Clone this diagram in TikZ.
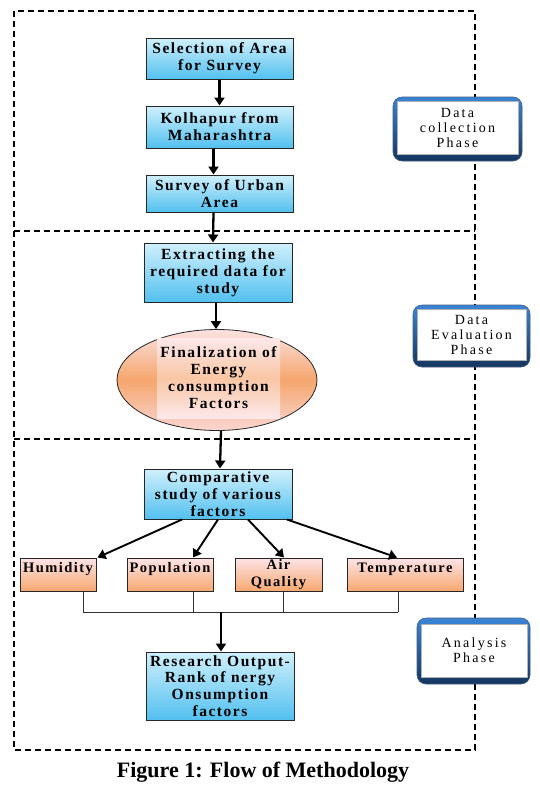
\documentclass[tikz,border=0pt]{standalone}
\usepackage{fontspec}
\setmainfont{Liberation Serif}
\newfontfamily\boxfont{Liberation Serif}[LetterSpace=10.0, BoldFont={Liberation Serif Bold}]
\newfontfamily\phasefont{Liberation Serif}[LetterSpace=16.0]
\usetikzlibrary{arrows.meta,shapes.geometric,calc}
\definecolor{bluetop}{HTML}{D0F0FC}
\definecolor{bluebot}{HTML}{52C0EF}
\definecolor{orgtop}{HTML}{FDE4E7}
\definecolor{orgbot}{HTML}{F6A870}
\definecolor{elltop}{HTML}{FCE2E2}
\definecolor{ellmid}{HTML}{F5A66D}
\definecolor{ellbot}{HTML}{FBD6D2}
\definecolor{bandtop}{HTML}{FDE8EA}
\definecolor{bandmid}{HTML}{F9C6A4}
\definecolor{frametop}{HTML}{3A84D6}
\definecolor{framebot}{HTML}{15355F}
\begin{document}
\begin{tikzpicture}[x=1pt,y=-1pt,
  bluebox/.style={draw=black!85, line width=1pt, top color=bluetop, bottom color=bluebot,
    font=\boxfont\bfseries\fontsize{15.5}{16.8}\selectfont, align=center, inner sep=0pt},
  orangebox/.style={draw=black!85, line width=1pt, top color=orgtop, bottom color=orgbot,
    font=\boxfont\bfseries\fontsize{14.5}{17}\selectfont, align=center, inner sep=0pt},
  toptext/.style={text height=10pt, text depth=15pt},
  ellshape/.style={ellipse, draw=black!85, line width=0.8pt, top color=elltop,
    bottom color=ellbot, middle color=ellmid, inner sep=0pt},
  band/.style={top color=bandtop, bottom color=bandtop, middle color=bandmid, inner sep=0pt,
    font=\boxfont\bfseries\fontsize{15.5}{17}\selectfont, align=center},
  phaseframe/.style={rounded corners=9pt, top color=frametop, bottom color=framebot, draw=framebot!80, line width=0.6pt, inner sep=0pt},
  phasein/.style={fill=white, draw=gray!60, line width=0.6pt, inner sep=0pt, align=center,
    font=\phasefont\fontsize{14}{15}\selectfont},
  frameline/.style={line width=1.2pt, dash pattern=on 6pt off 4pt},
  arr/.style={line width=2.3pt, -{Triangle[length=8pt,width=10pt]}},
  farr/.style={line width=1.9pt, -{Triangle[length=8pt,width=10pt]}},
  busline/.style={line width=0.9pt, draw=black!80}
]
\useasboundingbox (0,0) rectangle (540,796);

% dashed phase frames
\draw[frameline] (14,11) rectangle (475,750);
\draw[frameline] (14,231) -- (475,231);
\draw[frameline] (14,439) -- (475,439);

% data collection phase
\node[bluebox, minimum width=147, minimum height=41] (sel) at (219.5,58.5) {Selection of Area\\for Survey};
\node[bluebox, minimum width=147, minimum height=42] (kol) at (219.5,127) {Kolhapur from\\Maharashtra};
\node[bluebox, minimum width=147, minimum height=37] (sur) at (219.5,193.5) {Survey of Urban\\Area};

% data evaluation phase
\node[bluebox, minimum width=148, minimum height=59] (ext) at (218,272.5) {Extracting the\\required data for\\study};
\node[ellshape, minimum width=200, minimum height=101] (ell) at (217,380) {};
\node[band, minimum width=123, minimum height=80] (fin) at (218.5,378) {Finalization of\\Energy\\consumption\\Factors};

% analysis phase
\node[bluebox, minimum width=148, minimum height=50] (comp) at (218,494) {Comparative\\study of various\\factors};
\node[orangebox, toptext, minimum width=76, minimum height=33] (hum) at (58,574.5) {Humidity};
\node[orangebox, toptext, minimum width=86, minimum height=33] (pop) at (170,574.5) {Population};
\node[orangebox, minimum width=87, minimum height=33] (air) at (278.5,574.5) {Air\\Quality};
\node[orangebox, toptext, minimum width=116, minimum height=33] (tem) at (405,574.5) {Temperature};
\node[bluebox, minimum width=148, minimum height=68] (res) at (220,686) {Research Output-\\Rank of nergy\\Onsumption\\factors};

% phase labels
\node[phaseframe, minimum width=129, minimum height=64] (dcf) at (457.5,129) {};
\node[phasein, minimum width=121, minimum height=53] (dc) at (457.5,127.5) {Data\\collection\\Phase};
\node[phaseframe, minimum width=117, minimum height=62] (def) at (471.5,336) {};
\node[phasein, minimum width=109, minimum height=51] (de) at (471.5,334.5) {Data\\Evaluation\\Phase};
\node[phaseframe, minimum width=113, minimum height=66] (anf) at (473.5,651) {};
\node[phasein, minimum width=106, minimum height=53] (an) at (474,650.5) {Analysis\\Phase};

% arrows
\draw[arr] (sel.south) -- (kol.north);
\draw[arr] ([xshift=-6pt]kol.south) -- ([xshift=-6pt]sur.north);
\draw[arr] ([xshift=-6pt]sur.south) -- ([xshift=-5pt]ext.north);
\draw[arr] ([xshift=-2pt]ext.south) -- ([xshift=-1pt]ell.north);
\draw[arr] ([xshift=4pt]ell.south) -- ([xshift=2pt]comp.north);

\draw[farr] ([xshift=-36pt]comp.south) -- ([xshift=1pt]hum.north east);
\draw[farr] (comp.south) -- ([xshift=23pt]pop.north);
\draw[farr] ([xshift=30pt]comp.south) -- ([xshift=5.5pt]air.north);
\draw[farr] ([xshift=69pt]comp.south) -- ([xshift=-8pt]tem.north);

% collector bus
\coordinate (busR) at (398,612);
\coordinate (busM) at (221,612);
\draw[busline] ([xshift=25pt]hum.south) |- (busR);
\draw[busline] ([xshift=23pt]pop.south) -- ([xshift=23pt]pop.south |- busR);
\draw[busline] ([xshift=4.5pt]air.south) -- ([xshift=4.5pt]air.south |- busR);
\draw[busline] ([xshift=-7pt]tem.south) -- (busR);
\draw[arr] (busM) -- ([xshift=1pt]res.north);

% caption
\node[font=\bfseries\fontsize{22}{26}\selectfont] (cap) at (263,772) {Figure 1: Flow of Methodology};
\end{tikzpicture}
\end{document}
